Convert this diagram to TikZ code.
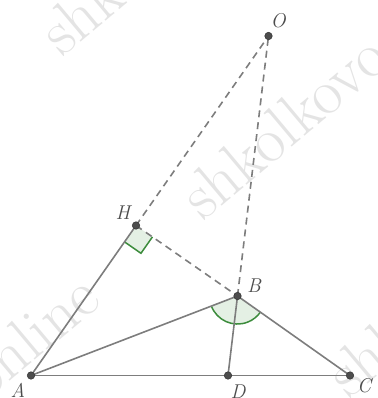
\documentclass[tikz,border=0pt]{standalone}
\usetikzlibrary{calc}
\definecolor{lin}{RGB}{125,125,125}
\definecolor{grn}{RGB}{60,140,60}
\definecolor{grnfill}{RGB}{228,240,228}
\definecolor{pt}{RGB}{77,77,77}
\definecolor{wm}{RGB}{228,228,228}
\begin{document}
\begin{tikzpicture}[x=1pt,y=-1pt,
  seg/.style={draw=lin,line width=1.6pt},
  dseg/.style={draw=lin,line width=1.6pt,dash pattern=on 7pt off 5pt},
  ptdot/.style={circle,fill=pt,draw=black!80,line width=0.5pt,inner sep=0pt,minimum size=7.5pt},
  lbl/.style={text=black!70,font=\fontsize{20}{22}\selectfont\itshape,inner sep=0pt},
  wmark/.style={text=wm,font=\fontsize{64}{70}\selectfont,rotate=40,anchor=base west,inner sep=0pt}]
\useasboundingbox (0,0) rectangle (377,398);
% watermarks
\node[wmark] (w1) at (62,58) {shkolkovo};
\node[wmark] (w2) at (-14,402) {online};
\node[wmark] (w3) at (203,222) {shkolkovo};
\node[wmark] (w4) at (349,400) {shkolkovo};
% points
\coordinate (O) at (268.5,36);
\coordinate (H) at (136,225.5);
\coordinate (B) at (237.5,296);
\coordinate (A) at (31,375.5);
\coordinate (D) at (228,375.5);
\coordinate (C) at (350,375.5);
% angle at B
\coordinate (ba) at ($(B)!28pt!(A)$);
\fill[grnfill] (B) -- (ba) arc[start angle=159,end angle=35,radius=28] -- cycle;
\draw[grn,line width=1.5pt] (ba) arc[start angle=159,end angle=35,radius=28];
% right angle at H
\coordinate (h1) at ($(H)!20pt!(B)$);
\coordinate (h2) at ($(H)!20pt!(A)$);
\coordinate (h3) at ($(h1)+(h2)-(H)$);
\fill[grnfill] (H) -- (h1) -- (h3) -- (h2) -- cycle;
\draw[grn,line width=1.5pt] (h1) -- (h3) -- (h2);
% segments
\draw[seg] (A) -- (H);
\draw[seg] (A) -- (B);
\draw[seg] (A) -- (C);
\draw[seg] (B) -- (C);
\draw[seg] (B) -- (D);
\draw[dseg] (H) -- (O);
\draw[dseg] (H) -- (B);
\draw[dseg] (B) -- (O);
% dots
\foreach \p in {O,H,B,A,D,C} \node[ptdot] (d\p) at (\p) {};
% labels
\node[lbl] (lO) at (278,21) {O};
\node[lbl] (lH) at (123,213) {H};
\node[lbl] (lB) at (254,286) {B};
\node[lbl] (lA) at (18,390) {A};
\node[lbl] (lD) at (238,392) {D};
\node[lbl] (lC) at (364,386) {C};
\end{tikzpicture}
\end{document}
